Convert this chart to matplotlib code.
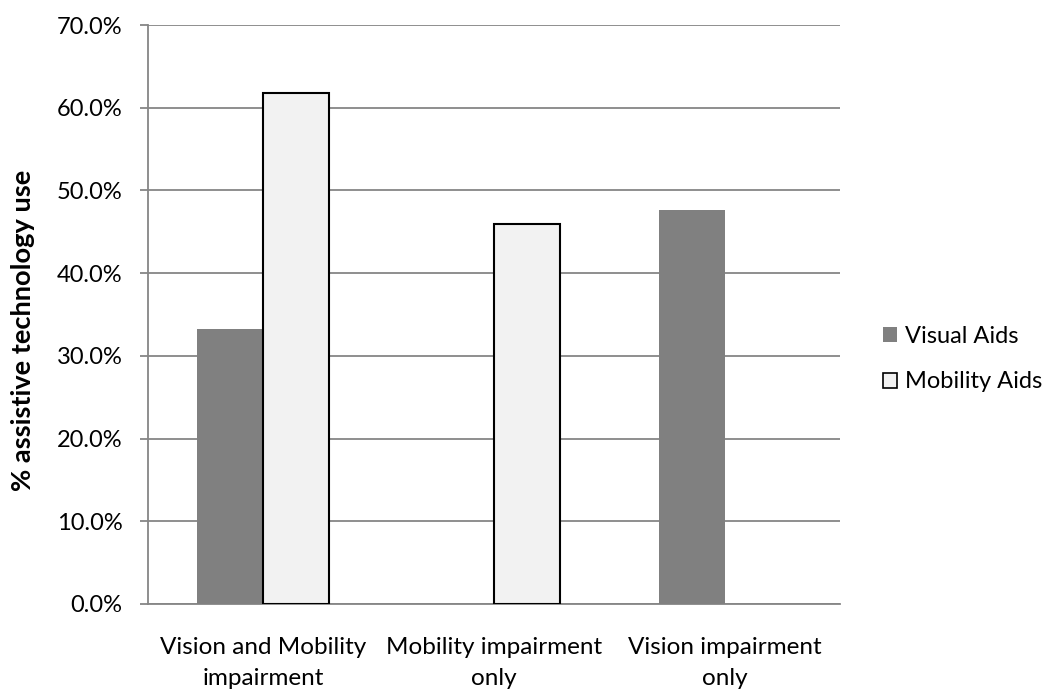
import matplotlib
matplotlib.use("Agg")
import matplotlib.pyplot as plt
from matplotlib.patches import Patch
from matplotlib.ticker import FuncFormatter
import numpy as np

plt.rcParams['font.family'] = ['Lato', 'DejaVu Sans']

categories = ["Vision and Mobility\nimpairment", "Mobility impairment\nonly", "Vision impairment\nonly"]
visual_aids = [33.2, 0.0, 47.6]
mobility_aids = [61.8, 46.0, 0.0]
series_names = ["Visual Aids", "Mobility Aids"]

W, H = 1049, 692
fig = plt.figure(figsize=(W / 100, H / 100), dpi=100)
ax = fig.add_axes([148 / W, 1 - 604 / H, (840 - 148) / W, (604 - 25) / H])

x = np.arange(len(categories))
w = 0.286
ax.bar(x - w / 2, visual_aids, w, color="#808080", edgecolor="none", zorder=3)
ax.bar(x + w / 2, [v if v > 0 else np.nan for v in mobility_aids], w,
       color="#f2f2f2", edgecolor="black", linewidth=1.5, zorder=3)

ax.set_xlim(-0.5, 2.5)
ax.set_ylim(0, 70)
ax.set_yticks(np.arange(0, 71, 10))
ax.yaxis.set_major_formatter(FuncFormatter(lambda v, p: f"{v:.1f}%"))
ax.yaxis.grid(True, color="#868686", linewidth=1.3, zorder=0)
ax.set_axisbelow(True)

for s in ["top", "right"]:
    ax.spines[s].set_visible(False)
for s in ["left", "bottom"]:
    ax.spines[s].set_color("#868686")
    ax.spines[s].set_linewidth(1.3)

ax.tick_params(axis="y", length=5.8, width=1.3, color="#868686", labelsize=17, pad=12.5)
ax.tick_params(axis="x", length=0, labelsize=17.5, pad=23.5)
ax.set_xticks(x)
ax.set_xticklabels(categories, linespacing=1.6)
ax.set_ylabel("% assistive technology use", fontsize=19.6, fontweight="bold", va="center")
ax.yaxis.set_label_coords(-0.1806, 0.473)

handles = [Patch(facecolor="#808080", edgecolor="none"),
           Patch(facecolor="#f2f2f2", edgecolor="black", linewidth=1.2)]
fig.legend(handles, series_names, loc="center left", bbox_to_anchor=(883 / W, 1 - 359 / H),
           frameon=False, fontsize=17, handlelength=0.6, handleheight=0.6,
           handletextpad=0.34, labelspacing=1.05, borderpad=0, borderaxespad=0)

fig.savefig("out.png", dpi=100)
